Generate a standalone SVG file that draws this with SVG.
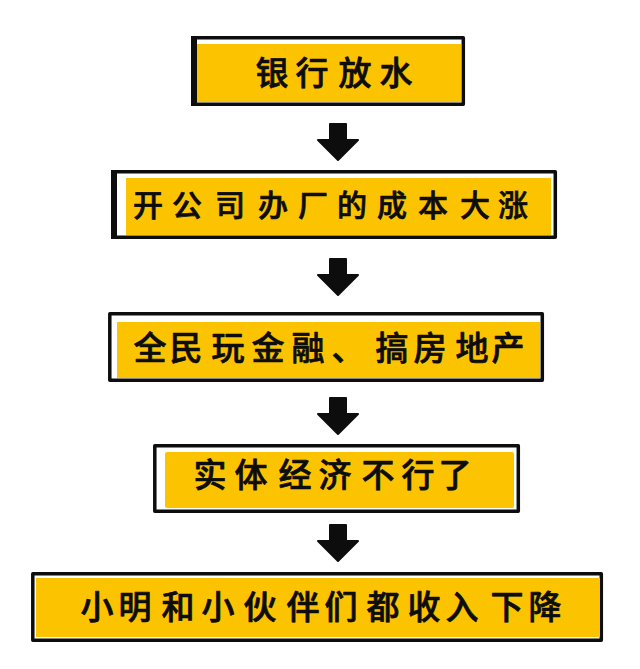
<svg xmlns="http://www.w3.org/2000/svg" width="640" height="669" viewBox="0 0 640 669">
<defs>
<style>
.frame{fill:#fff;stroke:#0d0d0d;stroke-width:3.5;stroke-linejoin:round}
.bar{fill:#0d0d0d}
.fill{fill:#fcc300}
.t{font-family:"Noto Sans CJK SC","Noto Sans",sans-serif;font-weight:500;fill:#0d0d0d;stroke:#0d0d0d;stroke-width:.7;stroke-linejoin:round;text-anchor:middle}
.a{fill:#0d0d0d;stroke:#0d0d0d;stroke-width:2;stroke-linejoin:round}
</style>
<path id="arrow" class="a" d="M-8 0H8V16H20L0 36L-20 16H-8Z"/>
</defs>
<rect width="640" height="669" fill="#fff"/>
<g id="connectors">
<use href="#arrow" x="338" y="124"/>
<use href="#arrow" x="338" y="259"/>
<use href="#arrow" x="338" y="398"/>
<use href="#arrow" x="338" y="525"/>
</g>
<g id="node1">
<rect class="frame" x="192.800" y="37.800" width="270.500" height="66.500"/>
<rect class="bar" x="191" y="36" width="6" height="70"/>
<rect class="fill" x="197" y="44" width="264" height="58"/>
<text class="t" font-size="33" x="272 312 355 396" y="85">银行放水</text>
</g>
<g id="node2">
<rect class="frame" x="112.800" y="171.800" width="442.500" height="65.500"/>
<rect class="bar" x="111" y="170" width="6" height="69"/>
<rect class="fill" x="126" y="178" width="425" height="57"/>
<text class="t" font-size="30" x="148 187 230 273 313 352 392 433 475 513" y="216">开公司办厂的成本大涨</text>
</g>
<g id="node3">
<rect class="frame" x="109.800" y="313.800" width="432.500" height="66.500"/>
<rect class="fill" x="117" y="322" width="423" height="56"/>
<text class="t" font-size="33" x="150 186 228 268 308 348 392 430 472 508" y="360">全民玩金融、搞房地产</text>
</g>
<g id="node4">
<rect class="frame" x="154.800" y="445.800" width="363.500" height="65.500"/>
<rect class="fill" x="165" y="452" width="349" height="56" rx="2"/>
<text class="t" font-size="33" x="210 251 295 335 378 418 455" y="487">实体经济不行了</text>
</g>
<g id="node5">
<rect class="frame" x="32.800" y="573.800" width="568.500" height="66.500"/>
<rect class="fill" x="36" y="578" width="564" height="59"/>
<text class="t" font-size="33" x="97 135 178 218 260 303 341 383 424 462 507 545" y="619">小明和小伙伴们都收入下降</text>
</g>
</svg>
